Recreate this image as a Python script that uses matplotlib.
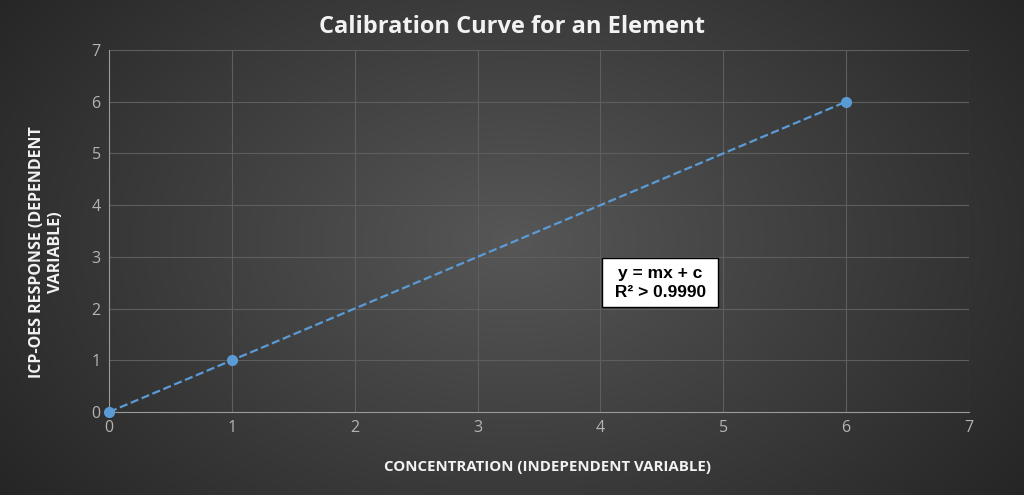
import matplotlib
matplotlib.use("Agg")
import matplotlib.pyplot as plt
import numpy as np

concentration = [0, 1, 6]
response = [0, 1, 6]
x_ticks = [0, 1, 2, 3, 4, 5, 6, 7]
y_ticks = [0, 1, 2, 3, 4, 5, 6, 7]
title = "Calibration Curve for an Element"
x_label = "CONCENTRATION (INDEPENDENT VARIABLE)"
y_label = "ICP-OES RESPONSE (DEPENDENT\nVARIABLE)"
box_text = "y = mx + c\n R² > 0.9990 "

blue = "#5b9bd5"
tick_col = "#b4b4b4"

fig = plt.figure(figsize=(10.24, 4.95), dpi=100)

# radial gradient background
bg = fig.add_axes([0, 0, 1, 1])
yy, xx = np.mgrid[0:495, 0:1024]
r = np.sqrt(((xx - 512) / 620.0) ** 2 + ((yy - 240) / 420.0) ** 2)
shade = np.clip(0.34 - 0.19 * r, 0.13, 0.34)
bg.imshow(np.dstack([shade] * 3), aspect="auto", extent=[0, 1, 0, 1])
bg.axis("off")

ax = fig.add_axes([109 / 1024, 83 / 495, 860 / 1024, 362 / 495])
ax.patch.set_alpha(0)
ax.set_xlim(0, 7)
ax.set_ylim(0, 7)
ax.set_xticks(x_ticks)
ax.set_yticks(y_ticks)
ax.grid(True, color="#5e5e5e", linewidth=0.8)
ax.set_axisbelow(True)
for s in ["top", "right"]:
    ax.spines[s].set_visible(False)
ax.spines["left"].set_color("#9a9a9a")
ax.spines["bottom"].set_color("#9a9a9a")
ax.tick_params(length=0, colors=tick_col, labelsize=11.5, pad=6)
for lab in ax.get_xticklabels() + ax.get_yticklabels():
    lab.set_family("Open Sans")

ax.plot(concentration, response, linestyle="--", color=blue, linewidth=1.6,
        marker="o", markersize=7, markerfacecolor=blue, markeredgecolor=blue,
        clip_on=False, zorder=3)

ax.text(4.485, 2.5, box_text, ha="center", va="center", fontsize=12.5,
        fontweight="bold", family="Liberation Sans", color="black", linespacing=1.3,
        bbox=dict(boxstyle="square,pad=0.45", facecolor="white", edgecolor="black", linewidth=1))

fig.text(0.5, 0.945, title, ha="center", va="center", fontsize=17,
         fontweight="bold", color="#f2f2f2", family="Open Sans")
fig.text(0.535, 0.057, x_label, ha="center", va="center", fontsize=10.8,
         fontweight="bold", color="#f2f2f2", family="Open Sans")
fig.text(0.045, 0.49, y_label, ha="center", va="center", fontsize=11.5,
         fontweight="bold", color="#f2f2f2", family="Open Sans",
         rotation=90, multialignment="center", linespacing=1.25)

fig.savefig("out.png", dpi=100)
